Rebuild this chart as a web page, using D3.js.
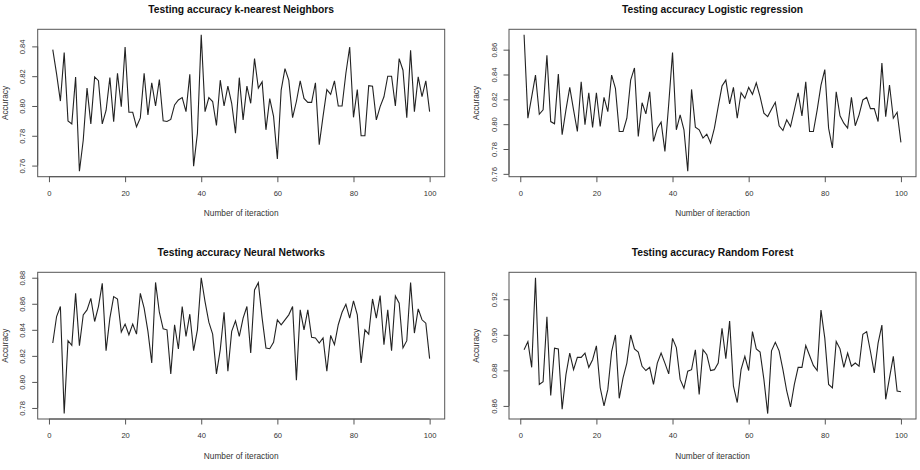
<!DOCTYPE html>
<html>
<head>
<meta charset="utf-8">
<script src="https://cdn.jsdelivr.net/npm/d3@7/dist/d3.min.js"></script>
<style>
  body { margin: 0; background: #fff; }
  svg { display: block; font-family: "Liberation Sans", Arial, sans-serif; }
</style>
</head>
<body>
<svg id="chart" width="920" height="470"></svg>
<script>
// testing accuracy per iteration
const iterations = d3.range(1, 101);

const knnAcc = [
  0.8378, 0.8215, 0.8033, 0.8358, 0.7900, 0.7880, 0.8195, 0.7562, 0.7770, 0.8120,
  0.7880, 0.8195, 0.8170, 0.7880, 0.7970, 0.8190, 0.7895, 0.8220, 0.7995, 0.8396,
  0.7958, 0.7958, 0.7860, 0.7920, 0.8220, 0.7940, 0.8156, 0.8000, 0.8178, 0.7900,
  0.7896, 0.7910, 0.8007, 0.8040, 0.8056, 0.7962, 0.8213, 0.7596, 0.7818, 0.8478,
  0.7962, 0.8056, 0.8030, 0.7870, 0.8173, 0.8000, 0.8133, 0.8018, 0.7818, 0.8190,
  0.7907, 0.8133, 0.8018, 0.8318, 0.8120, 0.8162, 0.7840, 0.8050, 0.7930, 0.7644,
  0.8107, 0.8251, 0.8173, 0.7922, 0.8030, 0.8169, 0.8051, 0.8024, 0.8024, 0.8156,
  0.7740, 0.7930, 0.8110, 0.8078, 0.8169, 0.8000, 0.8000, 0.8220, 0.8396, 0.7924,
  0.8110, 0.7800, 0.7800, 0.8136, 0.8133, 0.7907, 0.7996, 0.8062, 0.8200, 0.8200,
  0.8000, 0.8318, 0.8240, 0.7922, 0.8373, 0.7962, 0.8196, 0.8062, 0.8169, 0.7962
];

const logAcc = [
  0.8720, 0.8048, 0.8220, 0.8395, 0.8080, 0.8115, 0.8555, 0.8021, 0.8003, 0.8403,
  0.7915, 0.8115, 0.8296, 0.8115, 0.7941, 0.8341, 0.7995, 0.8253, 0.7973, 0.8253,
  0.7981, 0.8216, 0.8101, 0.8395, 0.8288, 0.7941, 0.7941, 0.8048, 0.8355, 0.8453,
  0.7901, 0.8173, 0.8083, 0.8261, 0.7861, 0.7968, 0.8016, 0.7781, 0.8163, 0.8576,
  0.7955, 0.8075, 0.7955, 0.7621, 0.8280, 0.7976, 0.7955, 0.7888, 0.7920, 0.7848,
  0.7968, 0.8141, 0.8307, 0.8355, 0.8163, 0.8296, 0.8048, 0.8253, 0.8208, 0.8296,
  0.8240, 0.8333, 0.8221, 0.8088, 0.8061, 0.8120, 0.8176, 0.7987, 0.7949, 0.8035,
  0.7981, 0.8115, 0.8253, 0.8067, 0.8341, 0.7941, 0.7941, 0.8115, 0.8315, 0.8440,
  0.7968, 0.7808, 0.8261, 0.8067, 0.8008, 0.7968, 0.8216, 0.7987, 0.8075, 0.8195,
  0.8216, 0.8125, 0.8125, 0.8021, 0.8493, 0.8061, 0.8315, 0.8048, 0.8096, 0.7853
];

const nnAcc = [
  0.8299, 0.8502, 0.8579, 0.7757, 0.8317, 0.8281, 0.8680, 0.8278, 0.8515, 0.8553,
  0.8642, 0.8464, 0.8579, 0.8757, 0.8240, 0.8490, 0.8655, 0.8637, 0.8383, 0.8444,
  0.8362, 0.8444, 0.8367, 0.8680, 0.8566, 0.8388, 0.8146, 0.8764, 0.8535, 0.8408,
  0.8400, 0.8062, 0.8439, 0.8253, 0.8579, 0.8350, 0.8520, 0.8240, 0.8400, 0.8800,
  0.8617, 0.8459, 0.8367, 0.8062, 0.8248, 0.8535, 0.8082, 0.8388, 0.8469, 0.8350,
  0.8490, 0.8579, 0.8222, 0.8706, 0.8762, 0.8490, 0.8261, 0.8255, 0.8304, 0.8477,
  0.8439, 0.8477, 0.8515, 0.8579, 0.8014, 0.8553, 0.8400, 0.8553, 0.8342, 0.8337,
  0.8299, 0.8337, 0.8082, 0.8357, 0.8286, 0.8439, 0.8535, 0.8596, 0.8490, 0.8622,
  0.8515, 0.8146, 0.8400, 0.8367, 0.8637, 0.8490, 0.8663, 0.8286, 0.8553, 0.8240,
  0.8660, 0.8604, 0.8261, 0.8317, 0.8764, 0.8375, 0.8561, 0.8477, 0.8451, 0.8179
];

const rfAcc = [
  0.8916, 0.8962, 0.8817, 0.9321, 0.8721, 0.8736, 0.9102, 0.8659, 0.8925, 0.8921,
  0.8581, 0.8776, 0.8897, 0.8804, 0.8873, 0.8873, 0.8897, 0.8817, 0.8860, 0.8938,
  0.8702, 0.8600, 0.8693, 0.8906, 0.8999, 0.8643, 0.8758, 0.8841, 0.8999, 0.8921,
  0.8903, 0.8823, 0.8799, 0.8817, 0.8721, 0.8841, 0.8897, 0.8841, 0.8780, 0.8980,
  0.8928, 0.8749, 0.8700, 0.8795, 0.8804, 0.8916, 0.8665, 0.8916, 0.8888, 0.8799,
  0.8804, 0.8841, 0.9037, 0.8866, 0.9077, 0.8711, 0.8619, 0.8804, 0.8879, 0.8799,
  0.9018, 0.8921, 0.8903, 0.8749, 0.8557, 0.8910, 0.8958, 0.8910, 0.8804, 0.8684,
  0.8594, 0.8721, 0.8817, 0.8817, 0.8940, 0.8884, 0.8828, 0.8799, 0.9139, 0.8981,
  0.8721, 0.8702, 0.8962, 0.8921, 0.8817, 0.8897, 0.8823, 0.8841, 0.8823, 0.9003,
  0.9018, 0.8906, 0.8786, 0.8953, 0.9055, 0.8637, 0.8758, 0.8879, 0.8684, 0.8680
];

// tick labels
const xTicks = [0, 20, 40, 60, 80, 100];
const knnTicks = [0.76, 0.78, 0.80, 0.82, 0.84];
const logTicks = [0.76, 0.78, 0.80, 0.82, 0.84, 0.86];
const nnTicks = [0.78, 0.80, 0.82, 0.84, 0.86, 0.88];
const rfTicks = [0.86, 0.88, 0.90, 0.92];

const titles = [
  'Testing accuracy k-nearest Neighbors',
  'Testing accuracy Logistic regression',
  'Testing accuracy Neural Networks',
  'Testing accuracy Random Forest'
];
const xLabel = 'Number of iteraction';
const yLabel = 'Accuracy';

// plot boxes (like par(mfrow = c(2, 2)))
const boxes = [
  { left: 37.7, right: 444.7, top: 29.3, bottom: 176.7 },
  { left: 509.0, right: 916.0, top: 29.3, bottom: 176.7 },
  { left: 37.7, right: 444.7, top: 272.3, bottom: 419.0 },
  { left: 509.0, right: 916.0, top: 272.3, bottom: 419.0 }
];

const svg = d3.select('#chart');

// R pads the data range by 4% on each side
function padRange(ext) {
  let d = ext[1] - ext[0];
  return [ext[0] - 0.04 * d, ext[1] + 0.04 * d];
}

function drawPanel(box, values, yTicks, title) {
  let g = svg.append('g');

  let x = d3.scaleLinear()
    .domain(padRange(d3.extent(iterations)))
    .range([box.left, box.right]);
  let y = d3.scaleLinear()
    .domain(padRange(d3.extent(values)))
    .range([box.bottom, box.top]);

  // box
  g.append('rect')
    .attr('x', box.left)
    .attr('y', box.top)
    .attr('width', box.right - box.left)
    .attr('height', box.bottom - box.top)
    .style('fill', 'none')
    .style('stroke', '#555')
    .style('stroke-width', 1);

  // x axis, line only between first and last tick
  let xAxis = g.append('g')
    .attr('transform', `translate(0,${box.bottom})`)
    .call(d3.axisBottom(x).tickValues(xTicks).tickSize(5.5).tickFormat(d3.format('d')));
  xAxis.select('.domain').remove();
  xAxis.append('line')
    .attr('x1', x(xTicks[0]))
    .attr('x2', x(xTicks[xTicks.length - 1]))
    .style('stroke', '#555');
  xAxis.selectAll('.tick line').style('stroke', '#555');
  xAxis.selectAll('.tick text')
    .attr('y', 16.6)
    .attr('dy', '0.35em')
    .style('font-size', '7.6px')
    .style('fill', '#333');

  // y axis with labels parallel to the axis
  let yAxis = g.append('g')
    .attr('transform', `translate(${box.left},0)`)
    .call(d3.axisLeft(y).tickValues(yTicks).tickSize(5.5).tickFormat(d3.format('.2f')));
  yAxis.select('.domain').remove();
  yAxis.append('line')
    .attr('y1', y(yTicks[0]))
    .attr('y2', y(yTicks[yTicks.length - 1]))
    .style('stroke', '#555');
  yAxis.selectAll('.tick line').style('stroke', '#555');
  yAxis.selectAll('.tick text')
    .attr('x', null)
    .attr('transform', 'translate(-15,0) rotate(-90)')
    .attr('y', 0)
    .attr('dy', '0.35em')
    .style('text-anchor', 'middle')
    .style('font-size', '7.6px')
    .style('fill', '#333');

  // accuracy line
  let line = d3.line()
    .x((d, i) => x(iterations[i]))
    .y((d) => y(d));
  g.append('path')
    .datum(values)
    .attr('d', line)
    .style('fill', 'none')
    .style('stroke', '#222')
    .style('stroke-width', 1.1)
    .style('stroke-linejoin', 'miter');

  let cx = (box.left + box.right) / 2;

  g.append('text')
    .attr('x', cx)
    .attr('y', box.top - 20)
    .attr('dy', '0.35em')
    .style('text-anchor', 'middle')
    .style('font-size', '10.3px')
    .style('font-weight', 'bold')
    .style('fill', '#111')
    .text(title);

  g.append('text')
    .attr('x', cx)
    .attr('y', box.bottom + 36.8)
    .attr('dy', '0.35em')
    .style('text-anchor', 'middle')
    .style('font-size', '8.3px')
    .style('fill', '#333')
    .text(xLabel);

  g.append('text')
    .attr('transform', `translate(${box.left - 33},${(box.top + box.bottom) / 2}) rotate(-90)`)
    .attr('dy', '0.35em')
    .style('text-anchor', 'middle')
    .style('font-size', '8.3px')
    .style('fill', '#333')
    .text(yLabel);
}

drawPanel(boxes[0], knnAcc, knnTicks, titles[0]);
drawPanel(boxes[1], logAcc, logTicks, titles[1]);
drawPanel(boxes[2], nnAcc, nnTicks, titles[2]);
drawPanel(boxes[3], rfAcc, rfTicks, titles[3]);
</script>
</body>
</html>
